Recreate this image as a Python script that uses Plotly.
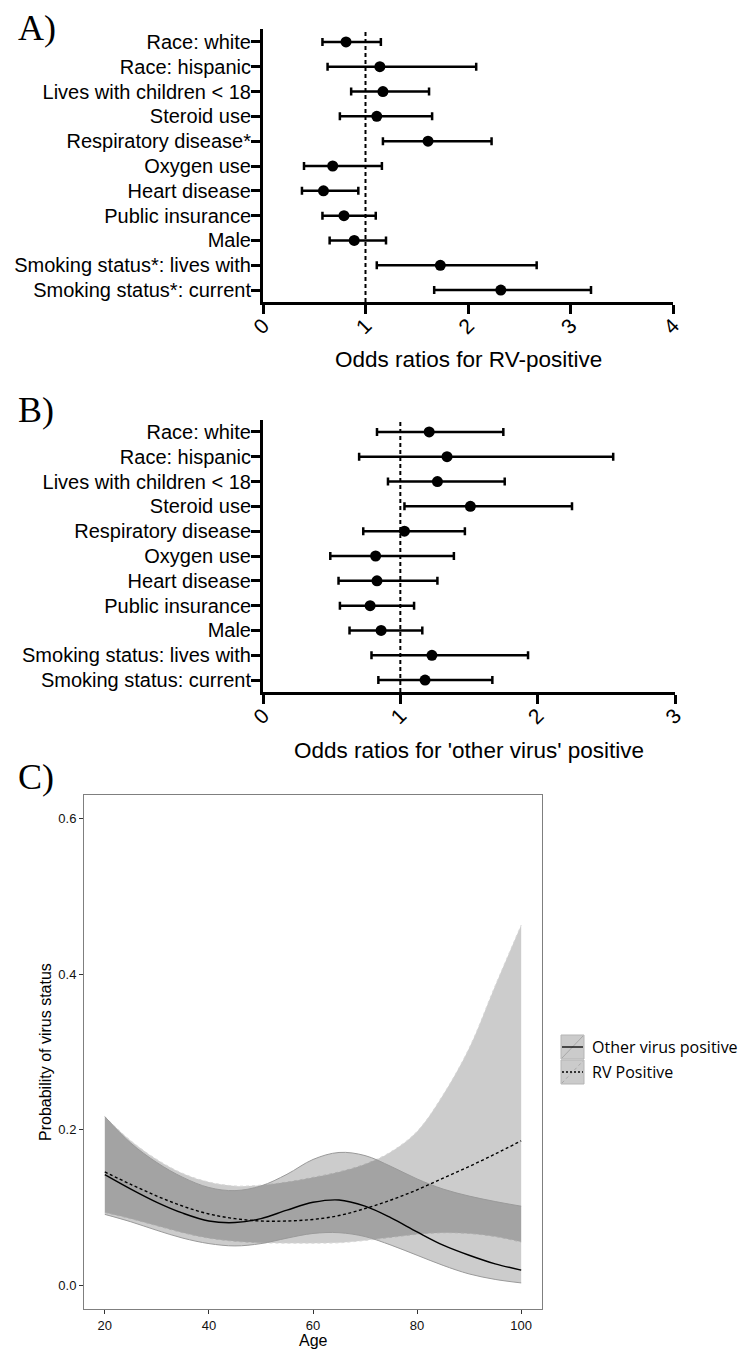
import plotly.graph_objects as go

W, H = 744, 1351

# ---------------- data ----------------
cats_a = ["Race: white", "Race: hispanic", "Lives with children < 18", "Steroid use",
          "Respiratory disease*", "Oxygen use", "Heart disease", "Public insurance", "Male",
          "Smoking status*: lives with", "Smoking status*: current"]
rv_or = [0.81, 1.14, 1.17, 1.11, 1.61, 0.68, 0.59, 0.79, 0.89, 1.73, 2.32]
rv_lo = [0.58, 0.63, 0.86, 0.75, 1.17, 0.40, 0.38, 0.58, 0.65, 1.11, 1.67]
rv_hi = [1.15, 2.08, 1.62, 1.65, 2.23, 1.16, 0.93, 1.10, 1.20, 2.67, 3.20]

cats_b = ["Race: white", "Race: hispanic", "Lives with children < 18", "Steroid use",
          "Respiratory disease", "Oxygen use", "Heart disease", "Public insurance", "Male",
          "Smoking status: lives with", "Smoking status: current"]
ov_or = [1.21, 1.34, 1.27, 1.51, 1.03, 0.82, 0.83, 0.78, 0.86, 1.23, 1.18]
ov_lo = [0.83, 0.70, 0.91, 1.03, 0.73, 0.49, 0.55, 0.56, 0.63, 0.79, 0.84]
ov_hi = [1.75, 2.55, 1.76, 2.25, 1.47, 1.39, 1.27, 1.10, 1.16, 1.93, 1.67]

xticks_a = [0, 1, 2, 3, 4]
xticks_b = [0, 1, 2, 3]

age = [20, 25, 30, 35, 40, 45, 50, 55, 60, 65, 70, 75, 80, 85, 90, 95, 100]
other_fit = [0.1426, 0.124, 0.107, 0.093, 0.083, 0.081, 0.086, 0.097, 0.107, 0.110,
             0.102, 0.087, 0.069, 0.052, 0.039, 0.028, 0.020]
other_lo = [0.0915, 0.082, 0.071, 0.061, 0.054, 0.051, 0.054, 0.061, 0.067, 0.068,
            0.063, 0.052, 0.039, 0.026, 0.015, 0.008, 0.0035]
other_hi = [0.217, 0.183, 0.158, 0.139, 0.126, 0.122, 0.128, 0.143, 0.162, 0.171,
            0.167, 0.153, 0.137, 0.124, 0.115, 0.108, 0.102]
rvp_fit = [0.146, 0.130, 0.115, 0.102, 0.092, 0.086, 0.083, 0.083, 0.085, 0.090,
           0.099, 0.110, 0.123, 0.138, 0.153, 0.169, 0.186]
rvp_lo = [0.094, 0.086, 0.077, 0.068, 0.061, 0.057, 0.055, 0.0545, 0.0545, 0.055,
          0.058, 0.062, 0.066, 0.068, 0.067, 0.063, 0.056]
rvp_hi = [0.217, 0.186, 0.162, 0.144, 0.133, 0.128, 0.129, 0.133, 0.139, 0.146,
          0.156, 0.172, 0.198, 0.245, 0.305, 0.385, 0.463]

legend_labels = ["Other virus positive", "RV Positive"]

# ---------------- helpers ----------------
def px(x):
    return x / W

def py(y):
    return 1 - y / H

SANS = "Liberation Sans, Arial, sans-serif"
SERIF = "Liberation Serif, Times New Roman, serif"

fig = go.Figure()

# ---------------- Panel A ----------------
idx = list(range(len(cats_a)))
fig.add_trace(go.Scatter(
    x=rv_or, y=idx, mode="markers", xaxis="x", yaxis="y",
    marker=dict(size=11, color="black"),
    error_x=dict(type="data", symmetric=False,
                 array=[h - o for h, o in zip(rv_hi, rv_or)],
                 arrayminus=[o - l for o, l in zip(rv_or, rv_lo)],
                 thickness=2.5, width=4, color="black"),
    showlegend=False, hoverinfo="skip"))

# ---------------- Panel B ----------------
idx_b = list(range(len(cats_b)))
fig.add_trace(go.Scatter(
    x=ov_or, y=idx_b, mode="markers", xaxis="x2", yaxis="y2",
    marker=dict(size=11, color="black"),
    error_x=dict(type="data", symmetric=False,
                 array=[h - o for h, o in zip(ov_hi, ov_or)],
                 arrayminus=[o - l for o, l in zip(ov_or, ov_lo)],
                 thickness=2.5, width=4, color="black"),
    showlegend=False, hoverinfo="skip"))

# ---------------- Panel C ----------------
band = "rgba(0,0,0,0.2)"
fig.add_trace(go.Scatter(x=age, y=rvp_lo, mode="lines", xaxis="x3", yaxis="y3",
                         line=dict(color="#d8d8d8", width=1, dash="dot", shape="spline"),
                         showlegend=False, hoverinfo="skip"))
fig.add_trace(go.Scatter(x=age, y=rvp_hi, mode="lines", xaxis="x3", yaxis="y3",
                         fill="tonexty", fillcolor=band,
                         line=dict(color="#d8d8d8", width=1, dash="dot", shape="spline"),
                         showlegend=False, hoverinfo="skip"))
fig.add_trace(go.Scatter(x=age, y=other_lo, mode="lines", xaxis="x3", yaxis="y3",
                         line=dict(color="#9a9a9a", width=1, shape="spline"),
                         showlegend=False, hoverinfo="skip"))
fig.add_trace(go.Scatter(x=age, y=other_hi, mode="lines", xaxis="x3", yaxis="y3",
                         fill="tonexty", fillcolor=band,
                         line=dict(color="#9a9a9a", width=1, shape="spline"),
                         showlegend=False, hoverinfo="skip"))
fig.add_trace(go.Scatter(x=age, y=other_fit, mode="lines", xaxis="x3", yaxis="y3",
                         line=dict(color="black", width=1.4, shape="spline"),
                         showlegend=False, hoverinfo="skip"))
fig.add_trace(go.Scatter(x=age, y=rvp_fit, mode="lines", xaxis="x3", yaxis="y3",
                         line=dict(color="black", width=1.4, dash="3px,2.5px", shape="spline"),
                         showlegend=False, hoverinfo="skip"))

# ---------------- axes ----------------
common_cat_y = dict(showline=True, linecolor="black", linewidth=3, ticks="outside",
                    ticklen=9, tickwidth=3, tickcolor="black", showgrid=False,
                    zeroline=False, automargin=False, ticklabelstandoff=-4,
                    tickfont=dict(family=SANS, size=20, color="black"))
common_or_x = dict(showline=True, linecolor="black", linewidth=3, ticks="outside",
                   ticklen=9, tickwidth=3, tickcolor="black", showgrid=False,
                   zeroline=False, tickangle=-45, automargin=False, ticklabelstandoff=-9,
                   tickfont=dict(family=SANS, size=21, color="black"))

fig.update_layout(
    width=W, height=H, margin=dict(l=0, r=0, t=0, b=0, autoexpand=False),
    paper_bgcolor="white", plot_bgcolor="white", showlegend=False,
    xaxis=dict(domain=[px(263), px(673)], range=[0, 4], tickvals=xticks_a,
               anchor="y", **common_or_x),
    yaxis=dict(domain=[py(302), py(29)], range=[10.48, -0.52], tickvals=idx,
               ticktext=cats_a, anchor="x", **common_cat_y),
    xaxis2=dict(domain=[px(263), px(675)], range=[0, 3], tickvals=xticks_b,
                anchor="y2", **common_or_x),
    yaxis2=dict(domain=[py(692), py(420)], range=[10.48, -0.48], tickvals=idx_b,
                ticktext=cats_b, anchor="x2", **common_cat_y),
    xaxis3=dict(domain=[px(84), px(542)], range=[16, 104], tickvals=[20, 40, 60, 80, 100],
                anchor="y3", showline=True, mirror=True, linecolor="#7f7f7f", linewidth=1,
                ticks="outside", ticklen=4, tickwidth=1, tickcolor="#333",
                showgrid=False, zeroline=False, automargin=False,
                tickfont=dict(family=SANS, size=13, color="#111")),
    yaxis3=dict(domain=[py(1309), py(795)], range=[-0.03, 0.63], tickvals=[0, 0.2, 0.4, 0.6],
                tickformat=".1f", anchor="x3", showline=True, mirror=True,
                linecolor="#7f7f7f", linewidth=1, ticks="outside", ticklen=4, tickwidth=1,
                tickcolor="#333", showgrid=False, zeroline=False, automargin=False,
                tickfont=dict(family=SANS, size=13, color="#111")),
)

# reference lines at OR = 1
fig.add_shape(type="line", xref="x", yref="y domain", x0=1, x1=1, y0=0, y1=1,
              line=dict(color="black", width=2, dash="4px,3px"))
fig.add_shape(type="line", xref="x2", yref="y2 domain", x0=1, x1=1, y0=0, y1=1,
              line=dict(color="black", width=2, dash="4px,3px"))

# ---------------- annotations ----------------
ann = []
ann.append(dict(text="A)", x=px(16), y=py(28), xanchor="left", yanchor="middle",
                font=dict(family=SERIF, size=36, color="black")))
ann.append(dict(text="B)", x=px(16), y=py(410), xanchor="left", yanchor="middle",
                font=dict(family=SERIF, size=36, color="black")))
ann.append(dict(text="C)", x=px(16), y=py(777), xanchor="left", yanchor="middle",
                font=dict(family=SERIF, size=36, color="black")))
ann.append(dict(text="Odds ratios for RV-positive", x=px(468), y=py(360),
                xanchor="center", yanchor="middle",
                font=dict(family=SANS, size=22.5, color="black")))
ann.append(dict(text="Odds ratios for 'other virus' positive", x=px(469), y=py(750),
                xanchor="center", yanchor="middle",
                font=dict(family=SANS, size=22.5, color="black")))
ann.append(dict(text="Age", x=px(313), y=py(1340), xanchor="center", yanchor="middle",
                font=dict(family=SANS, size=16, color="black")))
ann.append(dict(text="Probability of virus status", x=px(45), y=py(1052), textangle=-90,
                xanchor="center", yanchor="middle",
                font=dict(family=SANS, size=16, color="black")))

# legend (drawn manually)
key_rows = [(1035, 1059), (1060, 1084)]
dashes = ["solid", "2px,2px"]
for (y0, y1), lab, dsh in zip(key_rows, legend_labels, dashes):
    fig.add_shape(type="rect", xref="paper", yref="paper", x0=px(561), x1=px(584),
                  y0=py(y1), y1=py(y0), fillcolor="#cbcbcb",
                  line=dict(color="#b5b5b5", width=1))
    fig.add_shape(type="line", xref="paper", yref="paper", x0=px(562), x1=px(583),
                  y0=py(y1 - 1), y1=py(y0 + 1), line=dict(color="#a8a8a8", width=1,
                                                           dash=("solid" if dsh == "solid" else "dot")))
    fig.add_shape(type="line", xref="paper", yref="paper", x0=px(562), x1=px(583),
                  y0=py((y0 + y1) / 2), y1=py((y0 + y1) / 2),
                  line=dict(color="black", width=1.3, dash=dsh))
    ann.append(dict(text=lab, x=px(590), y=py((y0 + y1) / 2), xanchor="left",
                    yanchor="middle", font=dict(family="Open Sans, sans-serif", size=16,
                                                color="black")))

for a in ann:
    a.update(xref="paper", yref="paper", showarrow=False)
fig.update_layout(annotations=ann)

fig.write_html("out.html")
